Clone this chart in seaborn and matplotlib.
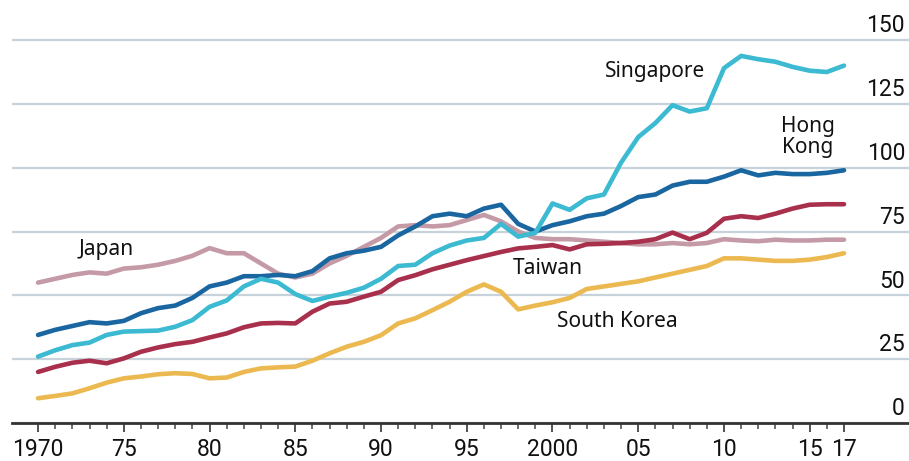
import numpy as np
import pandas as pd
import matplotlib
matplotlib.use("Agg")
import matplotlib.pyplot as plt
import seaborn as sns
from matplotlib.transforms import blended_transform_factory

years = list(range(1970, 2018))

japan = [55, 56.5, 58, 59, 58.5, 60.5, 61, 62, 63.5, 65.5,
         68.5, 66.5, 66.5, 62.5, 58.5, 57, 58.5, 62.5, 65.5, 69,
         72.5, 77, 77.5, 77, 77.5, 79.5, 81.5, 79, 75, 72.5,
         72, 72, 71.5, 71, 70.5, 70, 70, 70.5, 70, 70.5,
         72, 71.5, 71.2, 71.8, 71.5, 71.5, 71.8, 71.8]
hong_kong = [34.5, 36.5, 38, 39.5, 39, 40, 43, 45, 46, 49,
             53.5, 55, 57.5, 57.5, 58, 57.5, 59.5, 64.5, 66.5, 67.5,
             69, 73.5, 77, 81, 82, 81, 84, 85.5, 78, 75,
             77.5, 79, 81, 82, 85, 88.5, 89.5, 93, 94.5, 94.5,
             96.5, 99, 97, 98, 97.5, 97.5, 98, 99]
singapore = [26, 28.5, 30.5, 31.5, 34.5, 35.8, 36, 36.2, 37.7, 40.3,
             45.5, 48, 53.5, 56.5, 55, 50.5, 47.8, 49.5, 51, 53,
             56.5, 61.5, 62, 66.5, 69.5, 71.5, 72.5, 78, 73, 74.5,
             86, 83.5, 88, 89.5, 102, 112, 117.5, 124.5, 122, 123.3,
             139, 143.8, 142.5, 141.5, 139.5, 138, 137.5, 140]
taiwan = [20, 22, 23.6, 24.4, 23.4, 25.3, 27.9, 29.6, 30.9, 31.8,
          33.5, 35.1, 37.5, 39, 39.2, 39, 43.6, 46.8, 47.5, 49.5,
          51.4, 56, 57.9, 60.2, 62, 63.8, 65.4, 67, 68.4, 69,
          69.7, 68, 70, 70.2, 70.5, 71, 72, 74.6, 72, 74.5,
          80, 81, 80.3, 82, 84, 85.5, 85.7, 85.7]
south_korea = [9.7, 10.6, 11.6, 13.6, 15.8, 17.5, 18.2, 19.1, 19.5, 19.2,
               17.5, 17.8, 20, 21.4, 21.8, 22.1, 24.4, 27.3, 29.9, 31.8,
               34.4, 39, 41, 44.2, 47.5, 51.4, 54.3, 51.4, 44.5, 46,
               47.3, 49, 52.5, 53.5, 54.5, 55.5, 57, 58.5, 60, 61.5,
               64.5, 64.5, 64, 63.5, 63.5, 64, 65, 66.5]

countries = ["Japan", "Hong Kong", "Singapore", "Taiwan", "South Korea"]
series = [japan, hong_kong, singapore, taiwan, south_korea]
colors = {"Japan": "#c49aa6", "Hong Kong": "#1a66a0", "Singapore": "#3bbad2",
          "Taiwan": "#a8304c", "South Korea": "#ebb94f"}

y_ticks = [0, 25, 50, 75, 100, 125, 150]
x_major = [1970, 1975, 1980, 1985, 1990, 1995, 2000, 2005, 2010, 2015, 2017]
x_labels = ["1970", "75", "80", "85", "90", "95", "2000", "05", "10", "15", "17"]

df = pd.DataFrame({
    "year": years * len(countries),
    "value": sum(series, []),
    "country": [c for c in countries for _ in years],
})

sns.set_theme(style="white")
plt.rcParams["font.family"] = ["Noto Sans", "DejaVu Sans"]
num_font = ["Roboto", "DejaVu Sans"]

fig = plt.figure(figsize=(9.09, 4.61), dpi=100)
ax = fig.add_axes([12 / 909, 38 / 461, 897 / 909, 423 / 461])

# gridlines first so the lines sit on top
ax.set_yticks(y_ticks)
ax.yaxis.grid(True, color="#c8d2da", linewidth=1.6)
ax.set_axisbelow(True)

sns.lineplot(data=df, x="year", y="value", hue="country", palette=colors,
             linewidth=3.3, legend=False, ax=ax)

ax.set_xlim(1968.48, 2020.79)
ax.set_ylim(0, 165.7)
ax.set_xlabel("")
ax.set_ylabel("")
ax.tick_params(axis="y", left=False, right=False, labelleft=False)

for s in ["top", "left", "right"]:
    ax.spines[s].set_visible(False)
ax.spines["bottom"].set_color("#333333")
ax.spines["bottom"].set_linewidth(2)

ax.set_xticks(x_major)
ax.set_xticklabels(x_labels, fontsize=16.5, color="#111111", family=num_font)
ax.set_xticks(years, minor=True)
ax.tick_params(axis="x", which="major", direction="out", length=6.5, width=1.3,
               color="#444444", pad=4, bottom=True)
ax.tick_params(axis="x", which="minor", direction="out", length=4.5, width=1.1,
               color="#444444", bottom=True)

# right-hand value labels sitting above the gridlines
trans = blended_transform_factory(ax.transAxes, ax.transData)
for v in y_ticks:
    ax.annotate(str(v), xy=(0.9955, v), xycoords=trans, xytext=(0, 2),
                textcoords="offset points", ha="right", va="bottom",
                fontsize=16.5, color="#111111", family=num_font)

# series labels
lab = dict(fontsize=15, color="#111111", ha="center", va="center")
ax.text(1974.0, 68, "Japan", **lab)
ax.text(2006.0, 137.5, "Singapore", **lab)
ax.text(2014.9, 112, "Hong\nKong", linespacing=1.05, **lab)
ax.text(1999.7, 60.7, "Taiwan", **lab)
ax.text(2003.8, 39.6, "South Korea", **lab)

fig.savefig("out.png", dpi=100)
